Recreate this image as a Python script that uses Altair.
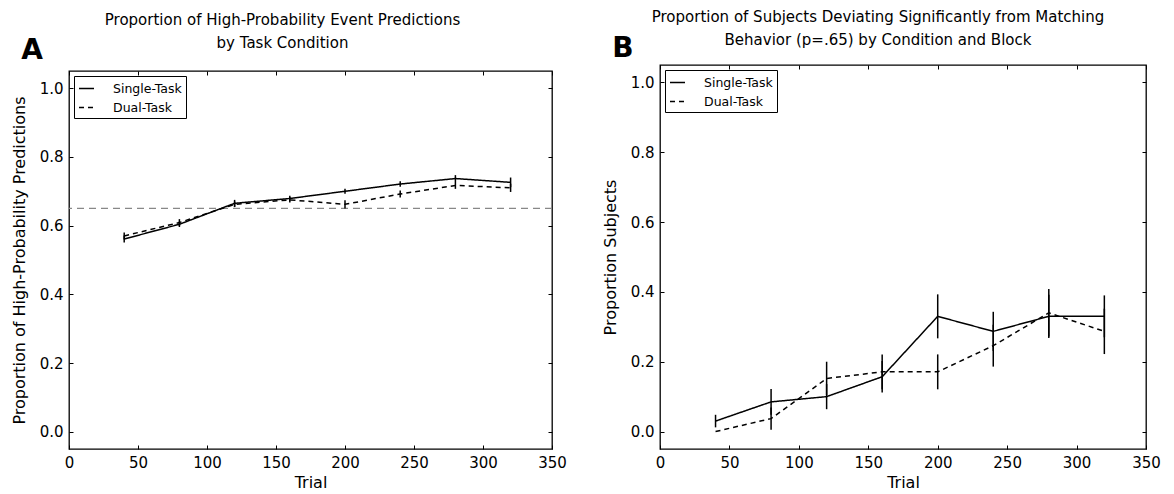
import altair as alt
import pandas as pd

FONT = "DejaVu Sans"

trials = [40, 80, 120, 160, 200, 240, 280, 320]
conditions = ["Single-Task", "Dual-Task"]
x_ticks = [0, 50, 100, 150, 200, 250, 300, 350]
y_ticks = [0.0, 0.2, 0.4, 0.6, 0.8, 1.0]

# Panel A: proportion of high-probability predictions
a_single = [0.561, 0.604, 0.665, 0.679, 0.700, 0.721, 0.737, 0.726]
a_single_err = [0.010, 0.008, 0.010, 0.008, 0.007, 0.008, 0.010, 0.014]
a_dual = [0.570, 0.609, 0.662, 0.675, 0.662, 0.692, 0.717, 0.710]
a_dual_err = [0.010, 0.010, 0.008, 0.008, 0.012, 0.010, 0.010, 0.012]
a_matching = [0.65]

# Panel B: proportion of subjects deviating from matching
b_single = [0.030, 0.085, 0.100, 0.157, 0.330, 0.287, 0.330, 0.330]
b_single_err = [0.018, 0.037, 0.036, 0.045, 0.063, 0.056, 0.062, 0.060]
b_dual = [0.000, 0.037, 0.152, 0.171, 0.171, 0.246, 0.340, 0.287]
b_dual_err = [0.000, 0.032, 0.048, 0.050, 0.050, 0.060, 0.068, 0.065]


def make_df(single, single_err, dual, dual_err):
    rows = []
    for cond, vals, errs in [("Single-Task", single, single_err), ("Dual-Task", dual, dual_err)]:
        for t, v, e in zip(trials, vals, errs):
            rows.append({"trial": t, "value": v, "lo": v - e, "hi": v + e, "condition": cond})
    return pd.DataFrame(rows)


XSCALE = alt.Scale(domain=[0, 350], nice=False, zero=False)
YSCALE = alt.Scale(domain=[-0.05, 1.05], nice=False, zero=False)


def header(title_lines, letter, width, h, letter_xy, offset, dx):
    return alt.Chart(pd.DataFrame({"letter": [letter]})).mark_text(
        font=FONT, fontSize=28, fontWeight="bold", color="black", align="center",
        baseline="alphabetic").encode(
        text="letter:N", x=alt.value(letter_xy[0]), y=alt.value(letter_xy[1])
    ).properties(
        width=width, height=h,
        view=alt.ViewBackground(strokeOpacity=0),
        title=alt.TitleParams(text=title_lines, fontSize=15, font=FONT, fontWeight="normal",
                              color="black", anchor="middle", dx=dx, offset=offset,
                              frame="group", lineHeight=23))


def body(df, ytitle, width, height, matching=None):
    base = alt.Chart(df)
    lines = base.mark_line(color="black", strokeWidth=1.5).encode(
        x=alt.X("trial:Q", scale=XSCALE,
                axis=alt.Axis(orient="bottom", values=x_ticks, title="Trial", offset=-4,
                              tickSize=4, labelPadding=6, titlePadding=4, labelFlush=False,
                              labelOverlap=False, labelFontSize=15, titleFontSize=16)),
        y=alt.Y("value:Q", scale=YSCALE,
                axis=alt.Axis(orient="left", values=y_ticks, format=".1f", title=ytitle,
                              offset=-4, tickSize=4, labelPadding=6, titlePadding=12,
                              labelFlush=False, labelFontSize=15, titleFontSize=16)),
        strokeDash=alt.StrokeDash(
            "condition:N",
            scale=alt.Scale(domain=conditions, range=[[1, 0], [5, 4]]),
            legend=alt.Legend(orient="top-left", offset=5, padding=4, title=None,
                              strokeColor="black", fillColor="white", cornerRadius=0,
                              labelFontSize=12.5, labelFont=FONT, labelColor="black",
                              symbolType="stroke", symbolSize=225, symbolStrokeWidth=1.5,
                              symbolStrokeColor="black", labelOffset=18, rowPadding=4)),
    )
    errs = base.mark_rule(color="black", strokeWidth=1.5).encode(
        x=alt.X("trial:Q", scale=XSCALE,
                axis=alt.Axis(orient="top", values=x_ticks, labels=False, title=None,
                              offset=-4, tickSize=4)),
        y=alt.Y("lo:Q", scale=YSCALE,
                axis=alt.Axis(orient="right", values=y_ticks, labels=False, title=None,
                              offset=-4, tickSize=4)),
        y2="hi:Q",
    )
    layers = []
    if matching is not None:
        mdf = pd.DataFrame({"p": matching})
        layers.append(
            alt.Chart(mdf).mark_rule(color="#888888", strokeDash=[7, 5], strokeWidth=1.2).encode(
                y=alt.Y("p:Q", scale=YSCALE, axis=None)))
    layers += [errs, lines]
    return alt.layer(*layers).resolve_axis(x="independent", y="independent").properties(
        width=width, height=height)


df_a = make_df(a_single, a_single_err, a_dual, a_dual_err)
df_b = make_df(b_single, b_single_err, b_dual, b_dual_err)

col_a = alt.vconcat(
    header(["Proportion of High-Probability Event Predictions", "by Task Condition"],
           "A", 483, 18, (-37, 8), -14, -28),
    body(df_a, "Proportion of High-Probability Predictions", 483, 378, matching=a_matching),
    spacing=0).resolve_scale(strokeDash="independent")
col_b = alt.vconcat(
    header(["Proportion of Subjects Deviating Significantly from Matching",
            "Behavior (p=.65) by Condition and Block"], "B", 486, 12, (-37, 6), -13, -25),
    body(df_b, "Proportion Subjects", 486, 384),
    spacing=0).resolve_scale(strokeDash="independent")

chart = alt.hconcat(col_a, col_b, spacing=34).resolve_scale(
    strokeDash="independent").properties(
    padding={"left": 2, "top": 2, "right": 0, "bottom": 0}
).configure_view(stroke="black", strokeWidth=1.3).configure_axis(
    labelFont=FONT, titleFont=FONT, labelColor="black", titleColor="black",
    tickColor="black", grid=False, domain=False, titleFontWeight="normal"
)

chart.save("out.html", embed_options={"renderer": "svg", "actions": False})
